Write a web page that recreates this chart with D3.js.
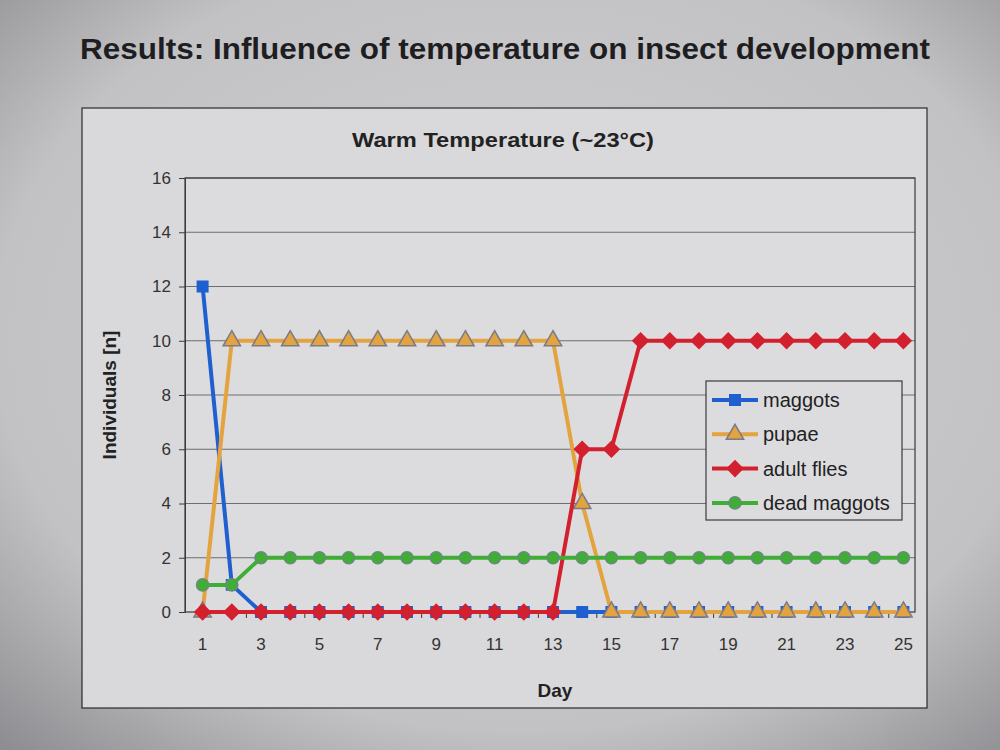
<!DOCTYPE html>
<html><head><meta charset="utf-8">
<script src="https://cdn.jsdelivr.net/npm/d3@7"></script>
<style>body{margin:0;background:#c8c8c8;}svg{display:block;}</style>
</head><body>
<svg id="c" width="1000" height="750"></svg>
<script>
const days = d3.range(1, 26);
const maggots = [12,1,0,0,0,0,0,0,0,0,0,0,0,0,0,0,0,0,0,0,0,0,0,0,0];
const pupae = [0,10,10,10,10,10,10,10,10,10,10,10,10,4,0,0,0,0,0,0,0,0,0,0,0];
const adultFlies = [0,0,0,0,0,0,0,0,0,0,0,0,0,6,6,10,10,10,10,10,10,10,10,10,10];
const deadMaggots = [1,1,2,2,2,2,2,2,2,2,2,2,2,2,2,2,2,2,2,2,2,2,2,2,2];
const seriesNames = ["maggots","pupae","adult flies","dead maggots"];
const yTicks = [0,2,4,6,8,10,12,14,16];
const xTickLabels = [1,3,5,7,9,11,13,15,17,19,21,23,25];

const series = [
  {name: seriesNames[0], values: maggots, color: "#1f5fd0", sym: d3.symbolSquare, size: 110, stroke: "#1f5fd0", rot: 0},
  {name: seriesNames[1], values: pupae, color: "#e3a33f", sym: d3.symbolTriangle, size: 130, stroke: "#7a7a8a", rot: 0},
  {name: seriesNames[2], values: adultFlies, color: "#d3202f", sym: d3.symbolSquare, size: 120, stroke: "#d3202f", rot: 45},
  {name: seriesNames[3], values: deadMaggots, color: "#3fae35", sym: d3.symbolCircle, size: 115, stroke: "#6a8a7a", rot: 0}
];

const svg = d3.select("#c");
const defs = svg.append("defs");
const rg = defs.append("radialGradient").attr("id","vig").attr("cx","52%").attr("cy","45%").attr("r","75%");
rg.append("stop").attr("offset","0%").attr("stop-color","#d2d2d4");
rg.append("stop").attr("offset","70%").attr("stop-color","#c2c2c4");
rg.append("stop").attr("offset","100%").attr("stop-color","#8e8e92");
svg.append("rect").attr("width",1000).attr("height",750).attr("fill","url(#vig)");

svg.append("text").attr("x",80).attr("y",59)
  .attr("font-family","Liberation Sans, Arial, sans-serif").attr("font-weight","bold")
  .attr("font-size",30).attr("fill","#1e1e22").attr("textLength",850)
  .attr("lengthAdjust","spacingAndGlyphs")
  .text("Results: Influence of temperature on insect development");

// chart area
svg.append("rect").attr("x",82).attr("y",108).attr("width",845).attr("height",600)
  .attr("fill","#d9d9db").attr("stroke","#2a2a2e").attr("stroke-width",1.2);

svg.append("text").attr("x",503).attr("y",147).attr("text-anchor","middle")
  .attr("font-family","Liberation Sans, Arial, sans-serif").attr("font-weight","bold")
  .attr("font-size",20).attr("fill","#222").attr("textLength",302)
  .attr("lengthAdjust","spacingAndGlyphs").text("Warm Temperature (~23°C)");

const L = 185, R = 915, T = 178, B = 612;
const x = d3.scaleBand().domain(days).range([L + 3, R + 3]);
const cx = d => x(d) + x.bandwidth()/2;
const y = d3.scaleLinear().domain([0,16]).range([B, T]);

svg.append("rect").attr("x",L).attr("y",T).attr("width",R-L).attr("height",B-T)
  .attr("fill","#dcdcde");

// gridlines
svg.append("g").selectAll("line").data(yTicks.filter(v=>v>0)).join("line")
  .attr("x1",L).attr("x2",R).attr("y1",d=>y(d)).attr("y2",d=>y(d))
  .attr("stroke","#6e6e72").attr("stroke-width",1.1);
svg.append("rect").attr("x",L).attr("y",T).attr("width",R-L).attr("height",B-T)
  .attr("fill","none").attr("stroke","#3a3a3e").attr("stroke-width",1.2);

// y axis
const yAxis = d3.axisLeft(y).tickValues(yTicks).tickSize(6).tickPadding(8);
const gy = svg.append("g").attr("transform",`translate(${L},0)`).call(yAxis);
gy.select(".domain").attr("stroke","#3a3a3e");
gy.selectAll(".tick line").attr("stroke","#3a3a3e");
gy.selectAll("text").attr("font-family","Liberation Sans, Arial, sans-serif")
  .attr("font-size",17).attr("fill","#333");

// x axis
const xAxis = d3.axisBottom(x).tickValues(xTickLabels).tickSize(0).tickPadding(26);
const gx = svg.append("g").attr("transform",`translate(0,${B})`).call(xAxis);
gx.select(".domain").remove();
gx.selectAll("text").attr("font-family","Liberation Sans, Arial, sans-serif")
  .attr("font-size",17).attr("fill","#333");
// tick marks at category boundaries every 2 categories
const bounds = days.filter(d => d % 2 === 0 && d < 25).map(d => x(d) + x.bandwidth());
svg.append("g").selectAll("line").data(bounds).join("line")
  .attr("x1",d=>d).attr("x2",d=>d).attr("y1",B).attr("y2",B+6)
  .attr("stroke","#3a3a3e");

svg.append("text").attr("transform",`translate(116,395) rotate(-90)`).attr("text-anchor","middle")
  .attr("font-family","Liberation Sans, Arial, sans-serif").attr("font-weight","bold")
  .attr("font-size",19).attr("fill","#222").text("Individuals [n]");
svg.append("text").attr("x",555).attr("y",697).attr("text-anchor","middle")
  .attr("font-family","Liberation Sans, Arial, sans-serif").attr("font-weight","bold")
  .attr("font-size",19).attr("fill","#222").text("Day");

// series
const line = d3.line().x((v,i)=>cx(days[i])).y(v=>y(v));
series.forEach(s => {
  svg.append("path").attr("d", line(s.values)).attr("fill","none")
    .attr("stroke", s.color).attr("stroke-width",4).attr("stroke-linejoin","round");
  svg.append("g").selectAll("path").data(s.values).join("path")
    .attr("transform",(v,i)=>`translate(${cx(days[i])},${y(v)}) rotate(${s.rot})`)
    .attr("d", d3.symbol().type(s.sym).size(s.size))
    .attr("fill", s.color).attr("stroke", s.stroke).attr("stroke-width",1.5);
});

// legend
const lg = svg.append("g");
lg.append("rect").attr("x",706).attr("y",381).attr("width",196).attr("height",139)
  .attr("fill","#dcdcde").attr("stroke","#3a3a3e").attr("stroke-width",1.2);
series.forEach((s,i) => {
  const ly = 400 + i*34.3;
  lg.append("line").attr("x1",712).attr("x2",758).attr("y1",ly).attr("y2",ly)
    .attr("stroke",s.color).attr("stroke-width",4);
  lg.append("path").attr("transform",`translate(735,${ly}) rotate(${s.rot})`)
    .attr("d", d3.symbol().type(s.sym).size(s.size)).attr("fill",s.color)
    .attr("stroke",s.stroke).attr("stroke-width",1.5);
  lg.append("text").attr("x",763).attr("y",ly+7)
    .attr("font-family","Liberation Sans, Arial, sans-serif")
    .attr("font-size",20).attr("fill","#222").text(s.name);
});
</script>
</body></html>
